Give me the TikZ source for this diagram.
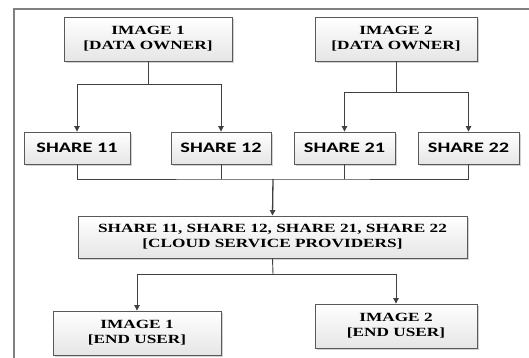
\documentclass[tikz,border=0pt]{standalone}
\usepackage{fontspec}
\setmainfont{Liberation Serif}[FakeStretch=1.38]
\newfontfamily\sharefont{Carlito}[FakeStretch=1.4]
\usepackage{tikz}
\usetikzlibrary{positioning, arrows.meta, shadows}

\begin{document}
\begin{tikzpicture}[
		x=1pt, y=-1pt,
		font=\fontsize{12.5}{15}\selectfont\bfseries,
		box/.style={draw=black!65, line width=0.9pt, align=center, inner sep=0pt,
			top color=white, bottom color=black!10,
			drop shadow={shadow xshift=1.6pt, shadow yshift=-1.6pt, fill=black!25, opacity=0.7},
			minimum height=44pt},
		sharebox/.style={box, minimum height=32pt, font=\sharefont\fontsize{14.5}{16}\selectfont\bfseries},
		wire/.style={draw=black!75, line width=0.9pt},
		link/.style={wire, -{Triangle[length=5.5pt, width=5.5pt]}}
		]
		
		\useasboundingbox (0,0) rectangle (529,358);
		\draw[black!50, line width=1.4pt] (529,9) -- (14,9) -- (14,358);
		
		% Data owners
		\node[box, minimum width=168pt] (owner1) at (148,39) {IMAGE 1\\{[DATA OWNER]}};
		\node[box, minimum width=162pt] (owner2) at (396,39) {IMAGE 2\\{[DATA OWNER]}};
		
		% Shares
		\node[sharebox, minimum width=106pt] (share11) at (77,148) {SHARE 11};
		\node[sharebox, minimum width=100pt] (share12) at (221,148) {SHARE 12};
		\node[sharebox, minimum width=101pt] (share21) at (344.5,148) {SHARE 21};
		\node[sharebox, minimum width=101pt] (share22) at (468.5,148) {SHARE 22};
		
		\coordinate (fork1) at (148,84);
		\coordinate (fork2) at (396,92);
		
		\draw[wire] (owner1.south) -- (fork1);
		\draw[link] (fork1) -| (share11.north);
		\draw[link] (fork1) -| (share12.north);
		
		\draw[wire] (owner2.south) -- (fork2);
		\draw[link] (fork2) -| (share21.north);
		\draw[link] (fork2) -| (share22.north);
		
		% Cloud service providers
		\node[box, minimum width=389pt, minimum height=42pt] (csp) at (272.5,237)
			{SHARE 11, SHARE 12, SHARE 21, SHARE 22\\{[CLOUD SERVICE PROVIDERS]}};
		
		\coordinate (join) at (273,179);
		
		\draw[wire] (share11.south) |- (join) -| (share22.south);
		\draw[wire] (share12.south) -- (share12.south |- join);
		\draw[wire] (share21.south) -- (share21.south |- join);
		\draw[link, line width=1.3pt] (join) -- (csp.north);
		
		% End users
		\node[box, minimum width=168pt] (user1) at (137,333) {IMAGE 1\\{[END USER]}};
		\node[box, minimum width=162pt] (user2) at (396,326) {IMAGE 2\\{[END USER]}};
		
		\coordinate (split) at (273,274);
		
		\draw[wire] (csp.south) -- (split);
		\draw[link] (split) -| (user1.north);
		\draw[link] (split) -| (user2.north);
		
	\end{tikzpicture}
\end{document}
